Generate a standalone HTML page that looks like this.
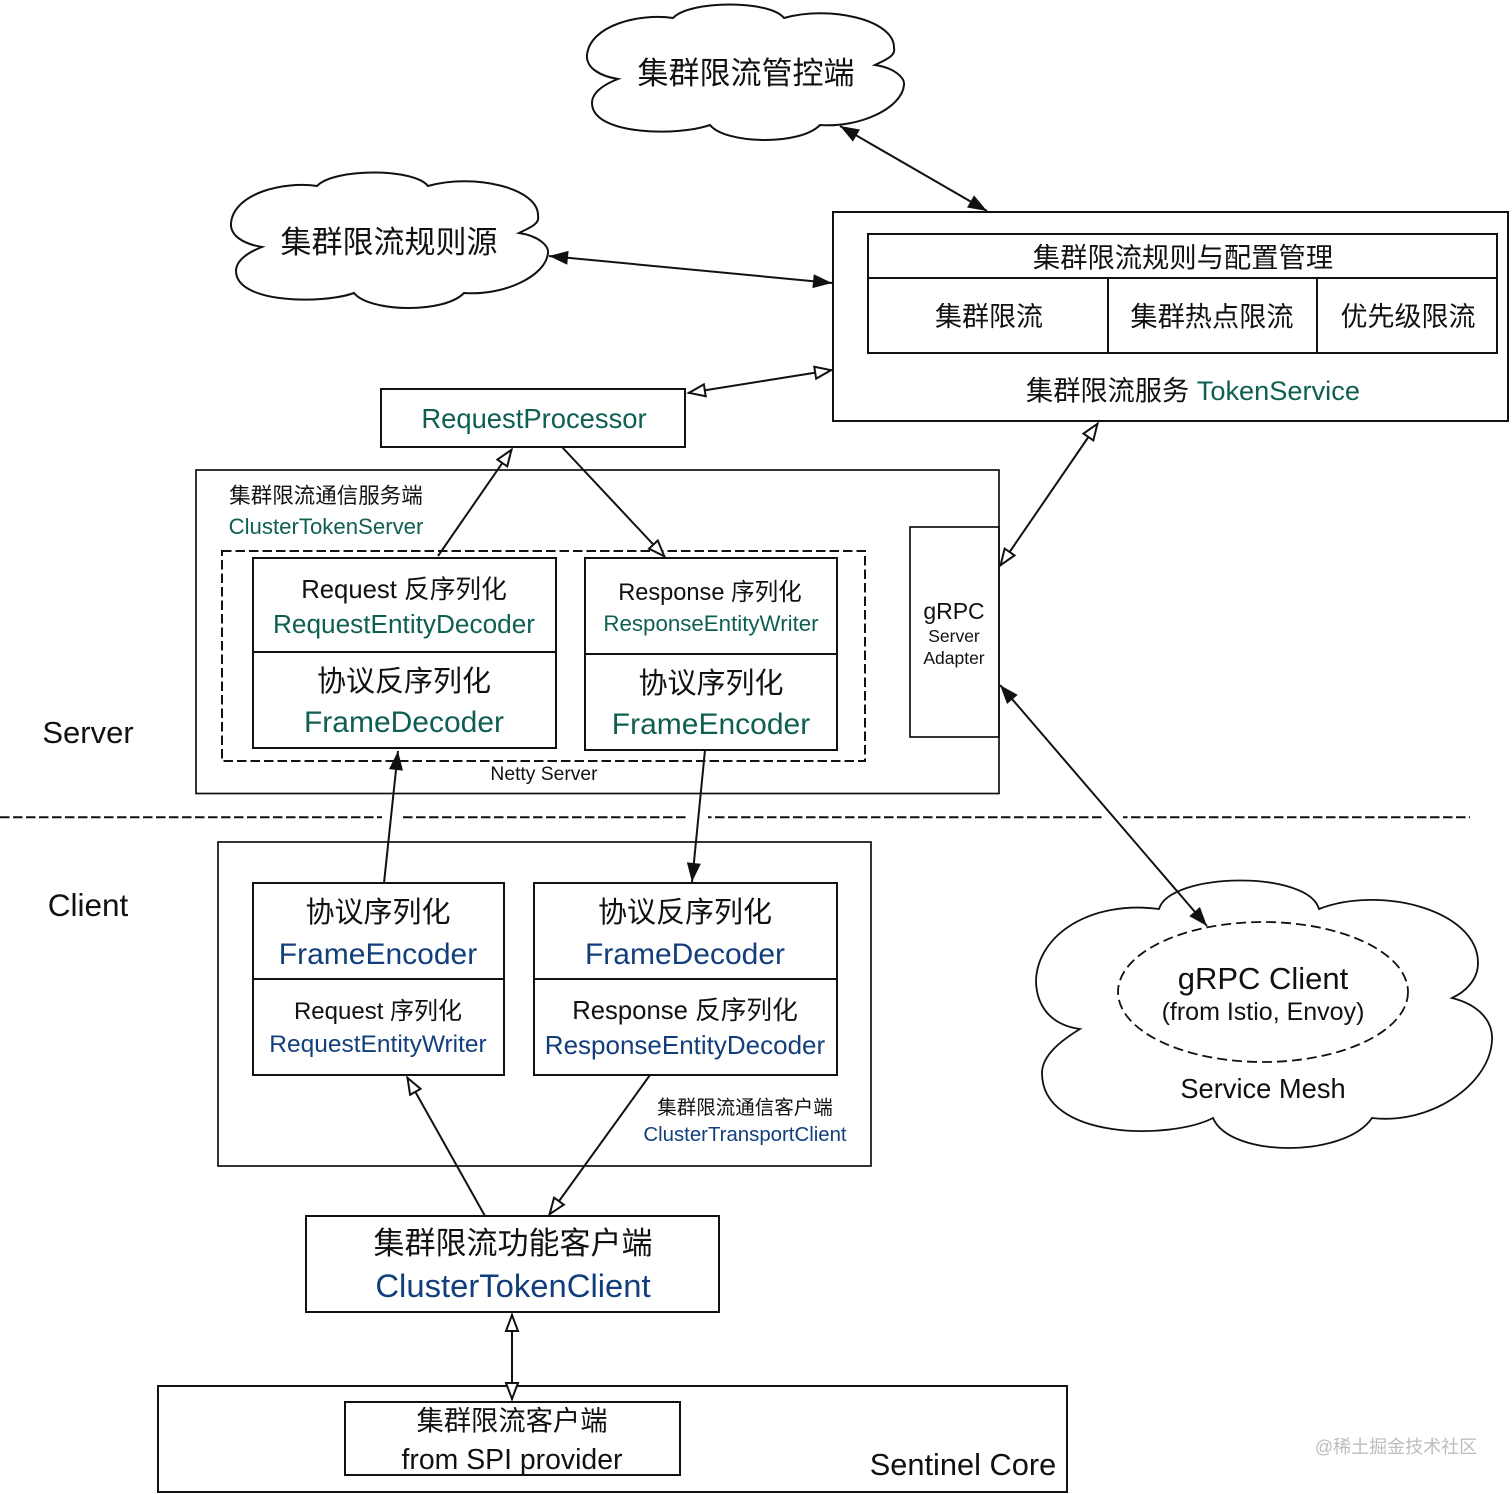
<!DOCTYPE html>
<html><head><meta charset="utf-8"><style>
html,body{margin:0;padding:0;background:#fff}
svg{display:block}
text{font-family:"Liberation Sans","Noto Sans CJK SC",sans-serif;fill:#111;text-anchor:middle}
.t{fill:#0e5f52}.b{fill:#123f7c}
.box{fill:none;stroke:#111;stroke-width:2}
.thin{fill:none;stroke:#111;stroke-width:1.700}
.a{stroke:#111;stroke-width:2;fill:none}
.ff{marker-start:url(#f);marker-end:url(#f)}
.oo{marker-start:url(#o);marker-end:url(#o)}
</style></head><body>
<svg xmlns="http://www.w3.org/2000/svg" width="1512" height="1494" viewBox="0 0 1512 1494">
<defs>
<marker id="f" markerUnits="userSpaceOnUse" markerWidth="24" markerHeight="20" refX="20" refY="10" orient="auto-start-reverse"><path d="M1 3L20 10L1 17Z" fill="#111"/></marker>
<marker id="o" markerUnits="userSpaceOnUse" markerWidth="24" markerHeight="20" refX="20" refY="10" orient="auto-start-reverse"><path d="M3 4L19 10L3 16Z" fill="#fff" stroke="#111" stroke-width="2"/></marker>
<path id="cl" d="M673 18C690 0 770 0 784 18C830 5 895 20 894 48C896 56 885 60 875 65C895 68 905 78 904 85C902 108 860 128 820 125C800 146 725 144 710 125C680 136 592 136 592 103C592 92 605 84 618 79C600 76 586 68 587 55C590 25 640 13 673 18Z" fill="#fff" stroke="#111" stroke-width="2"/>
</defs>

<use href="#cl"/>
<use href="#cl" x="-356" y="168"/>
<path d="M1159 909C1170 872 1308 870 1319 909C1380 885 1478 910 1478 963C1478 980 1465 992 1452 998C1480 1005 1493 1022 1492 1040C1490 1085 1430 1125 1372 1118C1345 1158 1230 1158 1213 1118C1170 1140 1042 1140 1042 1073C1042 1055 1062 1040 1080 1029C1050 1025 1036 1005 1036 980C1038 935 1090 900 1159 909Z" fill="#fff" stroke="#111" stroke-width="1.800"/>
<ellipse cx="1263" cy="992" rx="145" ry="70" fill="none" stroke="#111" stroke-width="1.800" stroke-dasharray="10 5"/>

<rect class="box" x="833" y="212" width="675" height="209"/>
<rect class="box" x="868" y="234" width="629" height="119"/>
<path class="box" d="M868 278H1497M1108 278V353M1317 278V353"/>
<rect class="box" x="381" y="389" width="304" height="58"/>
<rect class="thin" x="196" y="470" width="803" height="323.500"/>
<rect class="box" x="222" y="551" width="643" height="210" stroke-dasharray="9.500 4"/>
<rect class="box" x="253" y="558" width="303" height="190"/>
<path class="box" d="M253 652H556"/>
<rect class="box" x="585" y="558" width="252" height="192"/>
<path class="box" d="M585 654H837"/>
<rect class="thin" x="910" y="527" width="89" height="210"/>
<path class="box" d="M0 817.300H1470" stroke-dasharray="9.500 3.500"/>
<path d="M382 817.300H401M688 817.300H708M1105 817.300H1123" stroke="#fff" stroke-width="4" fill="none"/>
<rect class="thin" x="218" y="842" width="653" height="324"/>
<rect class="box" x="253" y="883" width="251" height="192"/>
<path class="box" d="M253 979H504"/>
<rect class="box" x="534" y="883" width="303" height="192"/>
<path class="box" d="M534 979H837"/>
<rect class="box" x="306" y="1216" width="413" height="96"/>
<rect class="box" x="158" y="1386" width="909" height="106"/>
<rect class="box" x="345" y="1402" width="335" height="73"/>

<line class="a ff" x1="840" y1="126" x2="987" y2="211"/>
<line class="a ff" x1="549" y1="256" x2="832" y2="283"/>
<line class="a oo" x1="688" y1="393" x2="832" y2="370"/>
<line class="a oo" x1="1098" y1="423" x2="1000" y2="566"/>
<line class="a" x1="438" y1="556" x2="512" y2="449" marker-end="url(#o)"/>
<line class="a" x1="562" y1="447" x2="665" y2="557" marker-end="url(#o)"/>
<line class="a" x1="384" y1="883" x2="398" y2="751" marker-end="url(#f)"/>
<line class="a" x1="705" y1="750" x2="692" y2="882" marker-end="url(#f)"/>
<line class="a ff" x1="1000" y1="685" x2="1207" y2="926"/>
<line class="a" x1="485" y1="1216" x2="407" y2="1077" marker-end="url(#o)"/>
<line class="a" x1="650" y1="1075" x2="549" y2="1215" marker-end="url(#o)"/>
<line class="a oo" x1="512" y1="1314" x2="512" y2="1400"/>

<text x="746" y="84" font-size="31">集群限流管控端</text>
<text x="389" y="253" font-size="31">集群限流规则源</text>
<text x="1183" y="267" font-size="27.300">集群限流规则与配置管理</text>
<text x="989" y="326" font-size="27">集群限流</text>
<text x="1212" y="326" font-size="27.200">集群热点限流</text>
<text x="1408" y="326" font-size="27">优先级限流</text>
<text x="1193" y="400" font-size="27.200">集群限流服务 <tspan class="t">TokenService</tspan></text>
<text x="534" y="428" font-size="27.400" class="t">RequestProcessor</text>
<text x="326" y="503" font-size="21.500">集群限流通信服务端</text>
<text x="326" y="534" font-size="22.200" class="t">ClusterTokenServer</text>
<text x="404" y="598" font-size="25.700">Request 反序列化</text>
<text x="404" y="633" font-size="26.200" class="t">RequestEntityDecoder</text>
<text x="404" y="691" font-size="29">协议反序列化</text>
<text x="404" y="732" font-size="30" class="t">FrameDecoder</text>
<text x="710" y="600" font-size="23.600">Response 序列化</text>
<text x="711" y="631" font-size="22.300" class="t">ResponseEntityWriter</text>
<text x="711" y="693" font-size="29">协议序列化</text>
<text x="711" y="734" font-size="30" class="t">FrameEncoder</text>
<text x="954" y="619" font-size="23">gRPC</text>
<text x="954" y="642" font-size="17.500">Server</text>
<text x="954" y="664" font-size="17.500">Adapter</text>
<text x="544" y="780" font-size="19.300">Netty Server</text>
<text x="88" y="743" font-size="31">Server</text>
<text x="88" y="916" font-size="31.500">Client</text>
<text x="378" y="922" font-size="29">协议序列化</text>
<text x="378" y="964" font-size="30" class="b">FrameEncoder</text>
<text x="378" y="1019" font-size="24">Request 序列化</text>
<text x="378" y="1052" font-size="24.500" class="b">RequestEntityWriter</text>
<text x="685" y="922" font-size="29">协议反序列化</text>
<text x="685" y="964" font-size="30" class="b">FrameDecoder</text>
<text x="685" y="1019" font-size="25.700">Response 反序列化</text>
<text x="685" y="1054" font-size="26" class="b">ResponseEntityDecoder</text>
<text x="745" y="1114" font-size="19.500">集群限流通信客户端</text>
<text x="745" y="1141" font-size="20.400" class="b">ClusterTransportClient</text>
<text x="513" y="1254" font-size="31">集群限流功能客户端</text>
<text x="513" y="1297" font-size="32.800" class="b">ClusterTokenClient</text>
<text x="512" y="1430" font-size="27.300">集群限流客户端</text>
<text x="512" y="1469" font-size="28.400">from SPI provider</text>
<text x="963" y="1475" font-size="30.800">Sentinel Core</text>
<text x="1263" y="989" font-size="31">gRPC Client</text>
<text x="1263" y="1020" font-size="25">(from Istio, Envoy)</text>
<text x="1263" y="1098" font-size="27.300">Service Mesh</text>
<text x="1396" y="1453" font-size="18" style="fill:#bdbdbd">@稀土掘金技术社区</text>
</svg>
</body></html>
